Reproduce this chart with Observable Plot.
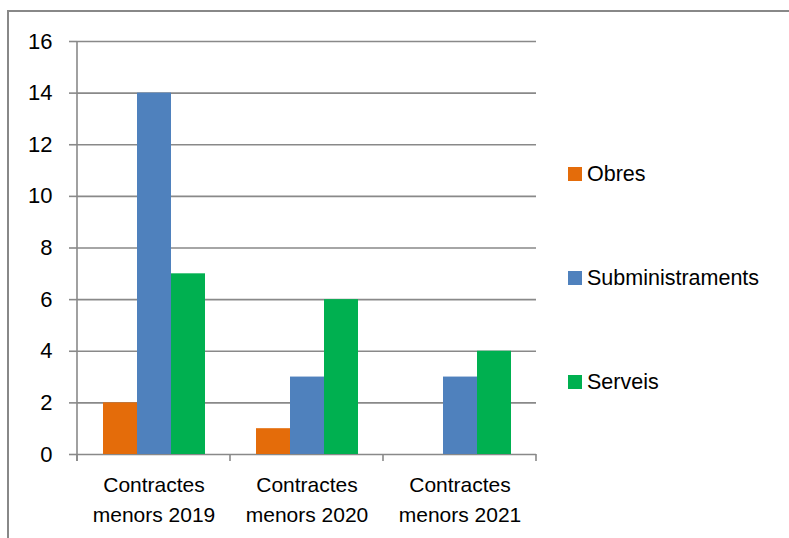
<!DOCTYPE html>
<html>
<head>
<meta charset="utf-8">
<script src="https://cdn.jsdelivr.net/npm/d3@7"></script>
<script src="https://cdn.jsdelivr.net/npm/@observablehq/plot@0.6"></script>
<style>
  html, body { margin: 0; padding: 0; background: #fff; overflow: hidden; width: 789px; height: 538px; }
  #wrap { position: relative; width: 789px; height: 538px; font-family: "Liberation Sans", Arial, sans-serif; }
  #btop { position: absolute; left: 7px; top: 10px; width: 782px; height: 2px; background: #888; z-index: 5; }
  #bleft { position: absolute; left: 7px; top: 10px; width: 2px; height: 528px; background: #888; z-index: 5; }
  #chart { position: absolute; left: 0; top: 0; z-index: 1; }
  #chart svg { background: transparent !important; }
  .leg { position: absolute; left: 568px; height: 30px; display: flex; align-items: center; font-size: 21.5px; color: #000; white-space: nowrap; z-index: 2; }
  .leg span.sw { display: inline-block; width: 14px; height: 14px; margin-right: 5px; }
</style>
</head>
<body>
<div id="wrap">
  <div id="chart"></div>
  <div id="legend"></div>
  <div id="btop"></div>
  <div id="bleft"></div>
</div>
<script>
const categories = ["Contractes menors 2019", "Contractes menors 2020", "Contractes menors 2021"];
const series = ["Obres", "Subministraments", "Serveis"];
const obres = [2, 1, 0];
const subministraments = [14, 3, 3];
const serveis = [7, 6, 4];
const yTicks = [0, 2, 4, 6, 8, 10, 12, 14, 16];
const colors = ["#E46C0A", "#4F81BD", "#00B050"];

const seriesValues = [obres, subministraments, serveis];
const rows = [];
categories.forEach((c, i) => {
  series.forEach((s, j) => rows.push({category: c, series: s, value: seriesValues[j][i]}));
});

const gridColor = "#898989";

const chart = Plot.plot({
  width: 789,
  height: 538,
  marginLeft: 76,
  marginRight: 253,
  marginTop: 41,
  marginBottom: 84,
  style: {fontFamily: "Liberation Sans, Arial, sans-serif", fontSize: "21px", background: "transparent", color: "#000", overflow: "visible"},
  fx: {domain: categories, paddingInner: 0, paddingOuter: 0, label: null},
  x: {domain: series, paddingInner: 0, paddingOuter: 0.75, axis: null},
  y: {domain: [0, 16], label: null},
  color: {domain: series, range: colors},
  marks: [
    Plot.ruleY(yTicks, {stroke: gridColor, strokeWidth: 1.6}),
    Plot.barY(rows, {fx: "category", x: "series", y: "value", fill: "series"}),
    Plot.axisY({ticks: yTicks, tickSize: 8, tickPadding: 17, label: null, stroke: gridColor, fontSize: 22}),
    Plot.axisFx({anchor: "bottom", tickSize: 0, tickPadding: 17, lineHeight: 1.4, label: null,
      tickFormat: d => d.replace(" menors", "\nmenors")})
  ]
});

document.getElementById("chart").appendChild(chart);

// axis line and category boundary ticks, positioned through Plot's scales
const fx = chart.scale("fx");
const y = chart.scale("y");
const svg = d3.select(chart);
svg.selectAll('[aria-label="y-axis tick"] path, [aria-label="y-axis tick"] line').attr("stroke", gridColor).attr("stroke-width", 1.6);
const x0 = fx.apply(categories[0]);
const edges = categories.map(c => fx.apply(c)).concat([fx.apply(categories[categories.length - 1]) + fx.bandwidth]);
const g = svg.append("g").attr("stroke", gridColor).attr("stroke-width", 1.6);
g.append("line").attr("x1", x0).attr("x2", x0).attr("y1", y.apply(16)).attr("y2", y.apply(0) + 7);
edges.forEach(e => g.append("line").attr("x1", e).attr("x2", e).attr("y1", y.apply(0)).attr("y2", y.apply(0) + 7));

// legend
const legendCenters = [174, 278, 382];
const legend = document.getElementById("legend");
series.forEach((s, i) => {
  const d = document.createElement("div");
  d.className = "leg";
  d.style.top = (legendCenters[i] - 15) + "px";
  d.innerHTML = `<span class="sw" style="background:${colors[i]}"></span>${s}`;
  legend.appendChild(d);
});
</script>
</body>
</html>
